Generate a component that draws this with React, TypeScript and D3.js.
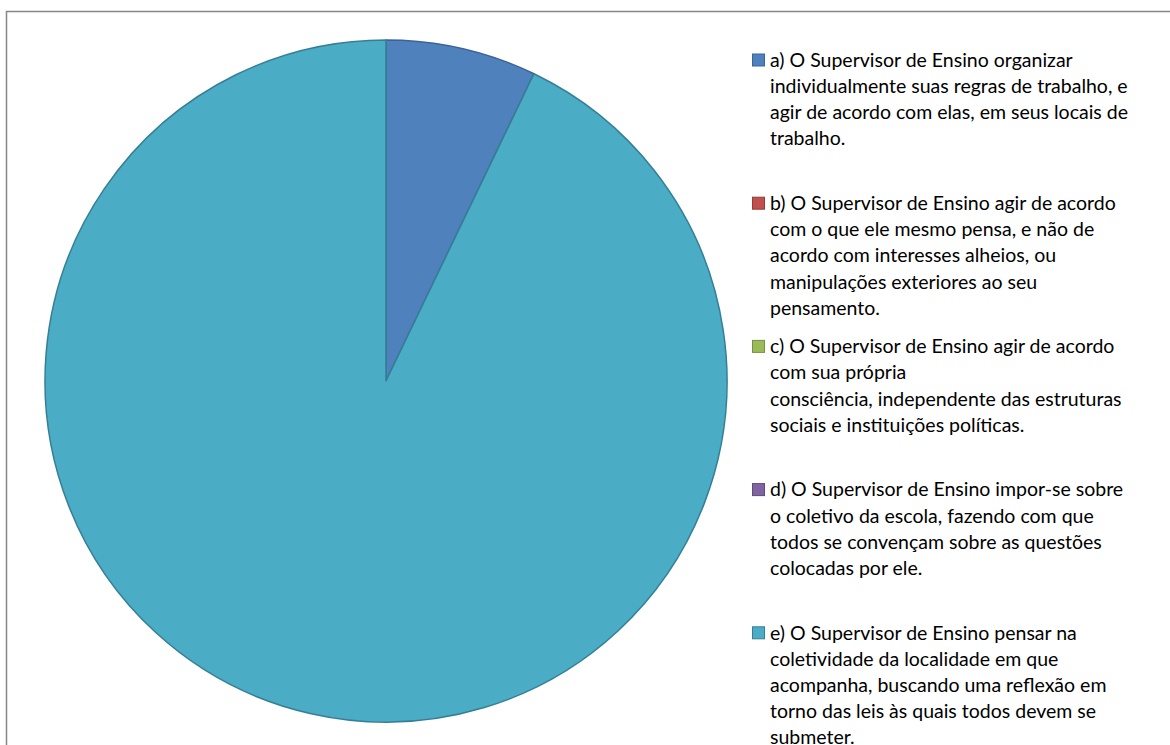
import React from 'react';
import * as d3 from 'd3';

const categories = ['a', 'b', 'c', 'd', 'e'];
const values = [1, 0, 0, 0, 13];
const colors = ['#4F81BD', '#C0504D', '#9BBB59', '#8064A2', '#4BACC6'];
const strokes = ['#3a6499', '#953b39', '#779044', '#5f4b7a', '#357f95'];
const legendLines = [
  ['a) O Supervisor de Ensino organizar', 'individualmente suas regras de trabalho, e', 'agir de acordo com elas, em seus locais de', 'trabalho.'],
  ['b) O Supervisor de Ensino agir de acordo', 'com o que ele mesmo pensa, e não de', 'acordo com interesses alheios, ou', 'manipulações exteriores ao seu', 'pensamento.'],
  ['c) O Supervisor de Ensino agir de acordo', 'com sua própria', 'consciência, independente das estruturas', 'sociais e instituições políticas.'],
  ['d) O Supervisor de Ensino impor-se sobre', 'o coletivo da escola, fazendo com que', 'todos se convençam sobre as questões', 'colocadas por ele.'],
  ['e) O Supervisor de Ensino pensar na', 'coletividade da localidade em que', 'acompanha, buscando uma reflexão em', 'torno das leis às quais todos devem se', 'submeter.'],
];

const W = 1170;
const H = 745;
const cx = 386;
const cy = 381;
const radius = 341;

export default function App() {
  const pie = d3.pie<number>().sort(null).value(d => d);
  const arcs = pie(values);
  const arc = d3.arc<d3.PieArcDatum<number>>().innerRadius(0).outerRadius(radius);

  const legendX = 752;
  const legendTop = 60;
  const itemGap = 143.2;
  const lineH = 26.2;

  return (
    <svg width={W} height={H} style={{ position: 'absolute', left: 0, top: 0, background: '#fff' }}
      fontFamily="Lato, 'Open Sans', sans-serif">
      <rect x={6.5} y={11.5} width={W} height={H} fill="#fff" stroke="#878787" strokeWidth={1.5} />
      <g transform={`translate(${cx},${cy})`}>
        {arcs.map((a, i) => a.value > 0 && (
          <path key={categories[i]} d={arc(a) || ''} fill={colors[i]} stroke={strokes[i]} strokeWidth={1.5} strokeLinejoin="round" />
        ))}
      </g>
      <g>
        {legendLines.map((lines, i) => {
          const y0 = legendTop + i * itemGap;
          return (
            <g key={categories[i]}>
              <rect x={legendX + 0.5} y={y0 - 6} width={12} height={12} fill={colors[i]} stroke={strokes[i]} strokeWidth={1} />
              {lines.map((t, j) => (
                <text key={j} x={legendX + 18} y={y0 + j * lineH} dy="0.35em" fontSize={19.5} fill="#000">{t}</text>
              ))}
            </g>
          );
        })}
      </g>
    </svg>
  );
}
